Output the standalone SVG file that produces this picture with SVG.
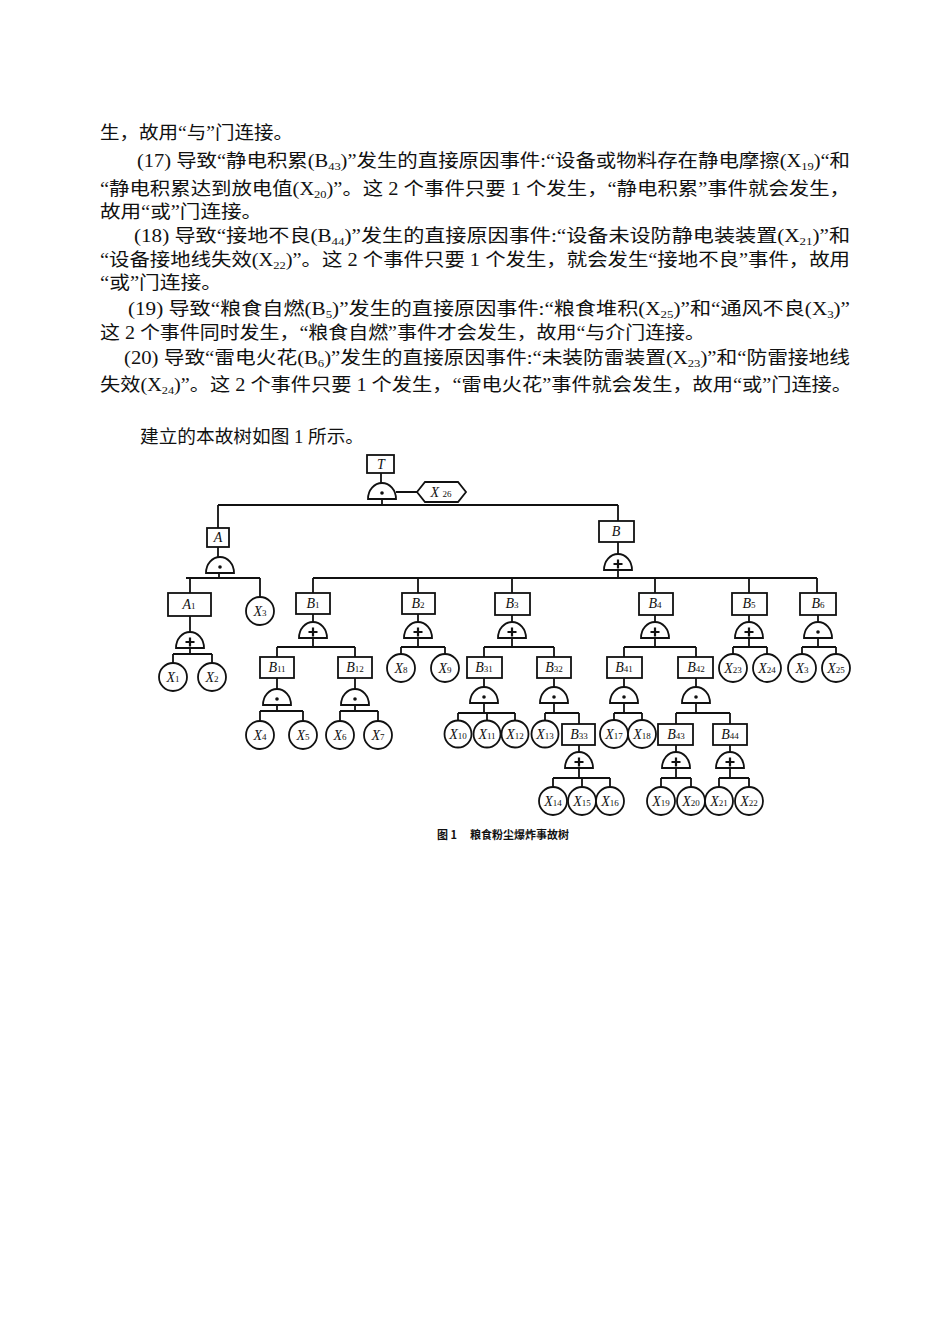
<svg xmlns="http://www.w3.org/2000/svg" width="950" height="1344" viewBox="0 0 950 1344">
<style>
.p{font-family:"Liberation Serif","Noto Sans CJK SC",serif;font-size:18px;fill:#111}
.s{font-size:11px}
.n{fill:#fff;stroke:#111;stroke-width:1.8}
.l{fill:none;stroke:#111;stroke-width:1.8}
.t{font-family:"Liberation Serif",serif;font-style:italic;font-size:14px;fill:#111;text-anchor:middle}
.t tspan{font-style:normal;font-size:9px}
.cap{font-family:"Noto Sans CJK SC",sans-serif;font-weight:bold;font-size:11px;fill:#111}
</style>
<defs>
<g id="and"><path d="M-14,0 A14,16 0 0 1 14,0 Z" fill="#fff" stroke="#111" stroke-width="1.8"/><circle cx="0" cy="-6" r="1.8" fill="#111"/></g>
<g id="or"><path d="M-14,0 A14,16 0 0 1 14,0 Z" fill="#fff" stroke="#111" stroke-width="1.8"/><path d="M-4.5,-6 H4.5 M0,-10.5 V-1.5" stroke="#111" stroke-width="2.2"/></g>
</defs>
<rect width="950" height="1344" fill="#fff"/>
<g id="text">
<text class="p" x="100" y="139" textLength="193" lengthAdjust="spacingAndGlyphs">生，故用“与”门连接。</text>
<text class="p" x="137" y="167" textLength="713" lengthAdjust="spacingAndGlyphs">(17) 导致“静电积累(B<tspan class="s" dy="3">43</tspan><tspan dy="-3">)”发生的直接原因事件:“设备或物料存在静电摩擦(X</tspan><tspan class="s" dy="3">19</tspan><tspan dy="-3">)“和</tspan></text>
<text class="p" x="100" y="195" textLength="750" lengthAdjust="spacingAndGlyphs">“静电积累达到放电值(X<tspan class="s" dy="3">20</tspan><tspan dy="-3">)”。这 2 个事件只要 1 个发生，“静电积累”事件就会发生，</tspan></text>
<text class="p" x="100" y="218" textLength="162" lengthAdjust="spacingAndGlyphs">故用“或”门连接。</text>
<text class="p" x="134" y="242" textLength="716" lengthAdjust="spacingAndGlyphs">(18) 导致“接地不良(B<tspan class="s" dy="3">44</tspan><tspan dy="-3">)”发生的直接原因事件:“设备未设防静电装装置(X</tspan><tspan class="s" dy="3">21</tspan><tspan dy="-3">)”和</tspan></text>
<text class="p" x="100" y="266" textLength="750" lengthAdjust="spacingAndGlyphs">“设备接地线失效(X<tspan class="s" dy="3">22</tspan><tspan dy="-3">)”。这 2 个事件只要 1 个发生，就会发生“接地不良”事件，故用</tspan></text>
<text class="p" x="100" y="289" textLength="122" lengthAdjust="spacingAndGlyphs">“或”门连接。</text>
<text class="p" x="128" y="315" textLength="722" lengthAdjust="spacingAndGlyphs">(19) 导致“粮食自燃(B<tspan class="s" dy="3">5</tspan><tspan dy="-3">)”发生的直接原因事件:“粮食堆积(X</tspan><tspan class="s" dy="3">25</tspan><tspan dy="-3">)”和“通风不良(X</tspan><tspan class="s" dy="3">3</tspan><tspan dy="-3">)”</tspan></text>
<text class="p" x="100" y="339" textLength="605" lengthAdjust="spacingAndGlyphs">这 2 个事件同时发生，“粮食自燃”事件才会发生，故用“与介门连接。</text>
<text class="p" x="124" y="364" textLength="726" lengthAdjust="spacingAndGlyphs">(20) 导致“雷电火花(B<tspan class="s" dy="3">6</tspan><tspan dy="-3">)”发生的直接原因事件:“未装防雷装置(X</tspan><tspan class="s" dy="3">23</tspan><tspan dy="-3">)”和“防雷接地线</tspan></text>
<text class="p" x="100" y="391" textLength="752" lengthAdjust="spacingAndGlyphs">失效(X<tspan class="s" dy="3">24</tspan><tspan dy="-3">)”。这 2 个事件只要 1 个发生，“雷电火花”事件就会发生，故用“或”门连接。</tspan></text>
<text class="p" x="140" y="443" textLength="224" lengthAdjust="spacingAndGlyphs">建立的本故树如图 1 所示。</text>
</g>
<g id="connectors" class="l">
<path d="M381,473V484 M396,492H417 M382,499V505 M218,505H618 M218,505V528 M618,505V521 M618,542V554 M618,570V578"/>
<path d="M218,547V558 M219,573V578 M186,578H260 M190,578V593 M260,578V597 M190,616V632 M190,648V654 M173,654H212 M173,654V663 M212,654V663"/>
<path d="M313,578H817 M313,578V593 M418,578V593 M512,578V593 M655,578V593 M749,578V593 M817,578V593"/>
<path d="M313,614V622 M313,638V647 M277,647H355 M277,647V657 M355,647V657 M277,678V689 M277,705V711 M260,711H303 M260,711V721 M303,711V721 M355,678V689 M355,705V711 M340,711H378 M340,711V721 M378,711V721"/>
<path d="M418,614V622 M418,638V647 M401,647H445 M401,647V654 M445,647V654"/>
<path d="M512,615V622 M512,638V647 M484,647H554 M484,647V657 M554,647V657 M484,678V687 M484,703V713 M458,713H515 M458,713V721 M487,713V721 M515,713V721 M554,678V687 M554,703V713 M545,713H579 M545,713V720 M579,713V724 M579,745V752 M579,768V778 M553,778H610 M553,778V787 M582,778V787 M610,778V787"/>
<path d="M655,615V622 M655,638V647 M624,647H696 M624,647V657 M696,647V657 M624,678V687 M624,703V713 M614,713H642 M614,713V720 M642,713V720 M696,678V687 M696,703V713 M676,713H730 M676,713V724 M730,713V724 M676,745V752 M676,768V778 M661,778H691 M661,778V787 M691,778V787 M730,745V752 M730,768V778 M719,778H749 M719,778V787 M749,778V787"/>
<path d="M749,615V622 M749,638V647 M733,647H767 M733,647V654 M767,647V654 M818,615V622 M818,638V647 M802,647H836 M802,647V654 M836,647V654"/>
</g>
<g id="gates">
<use href="#and" x="382" y="499"/><use href="#and" x="220" y="573"/><use href="#or" x="618" y="570"/>
<use href="#or" x="190" y="648"/><use href="#or" x="313" y="638"/><use href="#and" x="277" y="705"/><use href="#and" x="355" y="705"/>
<use href="#or" x="418" y="638"/><use href="#or" x="512" y="638"/><use href="#and" x="484" y="703"/><use href="#and" x="554" y="703"/><use href="#or" x="579" y="768"/>
<use href="#or" x="655" y="638"/><use href="#and" x="624" y="703"/><use href="#and" x="696" y="703"/><use href="#or" x="676" y="768"/><use href="#or" x="730" y="768"/>
<use href="#or" x="749" y="638"/><use href="#and" x="818" y="638"/>
</g>
<g id="T"><rect class="n" x="367" y="455" width="27" height="18"/><text class="t" x="381" y="469">T</text></g>
<g id="X26"><path class="n" d="M417,492 L425,482 H458 L466,492 L458,502 H425 Z"/><text class="t" x="441" y="497">X <tspan>26</tspan></text></g>
<g id="A"><rect class="n" x="207" y="528" width="22" height="19"/><text class="t" x="218" y="542">A</text></g>
<g id="B"><rect class="n" x="599" y="521" width="35" height="21"/><text class="t" x="616" y="536">B</text></g>
<g id="A1"><rect class="n" x="168" y="593" width="43" height="23"/><text class="t" x="189" y="609">A<tspan>1</tspan></text></g>
<g id="X3a"><circle class="n" cx="260" cy="611" r="14"/><text class="t" x="260" y="616">X<tspan>3</tspan></text></g>
<g id="X1"><circle class="n" cx="173" cy="677" r="14"/><text class="t" x="173" y="682">X<tspan>1</tspan></text></g>
<g id="X2"><circle class="n" cx="212" cy="677" r="14"/><text class="t" x="212" y="682">X<tspan>2</tspan></text></g>
<g id="B1"><rect class="n" x="296" y="593" width="34" height="21"/><text class="t" x="313" y="608">B<tspan>1</tspan></text></g>
<g id="B11"><rect class="n" x="260" y="657" width="34" height="21"/><text class="t" x="277" y="672">B<tspan>11</tspan></text></g>
<g id="B12"><rect class="n" x="338" y="657" width="34" height="21"/><text class="t" x="355" y="672">B<tspan>12</tspan></text></g>
<g id="X4"><circle class="n" cx="260" cy="735" r="14"/><text class="t" x="260" y="740">X<tspan>4</tspan></text></g>
<g id="X5"><circle class="n" cx="303" cy="735" r="14"/><text class="t" x="303" y="740">X<tspan>5</tspan></text></g>
<g id="X6"><circle class="n" cx="340" cy="735" r="14"/><text class="t" x="340" y="740">X<tspan>6</tspan></text></g>
<g id="X7"><circle class="n" cx="378" cy="735" r="14"/><text class="t" x="378" y="740">X<tspan>7</tspan></text></g>
<g id="B2"><rect class="n" x="402" y="593" width="33" height="21"/><text class="t" x="418" y="608">B<tspan>2</tspan></text></g>
<g id="X8"><circle class="n" cx="401" cy="668" r="14"/><text class="t" x="401" y="673">X<tspan>8</tspan></text></g>
<g id="X9"><circle class="n" cx="445" cy="668" r="14"/><text class="t" x="445" y="673">X<tspan>9</tspan></text></g>
<g id="B3"><rect class="n" x="495" y="593" width="35" height="22"/><text class="t" x="512" y="608">B<tspan>3</tspan></text></g>
<g id="B31"><rect class="n" x="467" y="657" width="35" height="21"/><text class="t" x="484" y="672">B<tspan>31</tspan></text></g>
<g id="B32"><rect class="n" x="537" y="657" width="34" height="21"/><text class="t" x="554" y="672">B<tspan>32</tspan></text></g>
<g id="X10"><circle class="n" cx="458" cy="734" r="13.5"/><text class="t" x="458" y="739">X<tspan>10</tspan></text></g>
<g id="X11"><circle class="n" cx="487" cy="734" r="13.5"/><text class="t" x="487" y="739">X<tspan>11</tspan></text></g>
<g id="X12"><circle class="n" cx="515" cy="734" r="13.5"/><text class="t" x="515" y="739">X<tspan>12</tspan></text></g>
<g id="X13"><circle class="n" cx="545" cy="734" r="13.5"/><text class="t" x="545" y="739">X<tspan>13</tspan></text></g>
<g id="B33"><rect class="n" x="562" y="724" width="33" height="21"/><text class="t" x="579" y="739">B<tspan>33</tspan></text></g>
<g id="X14"><circle class="n" cx="553" cy="801" r="14"/><text class="t" x="553" y="806">X<tspan>14</tspan></text></g>
<g id="X15"><circle class="n" cx="582" cy="801" r="14"/><text class="t" x="582" y="806">X<tspan>15</tspan></text></g>
<g id="X16"><circle class="n" cx="610" cy="801" r="14"/><text class="t" x="610" y="806">X<tspan>16</tspan></text></g>
<g id="B4"><rect class="n" x="639" y="593" width="34" height="22"/><text class="t" x="655" y="608">B<tspan>4</tspan></text></g>
<g id="B41"><rect class="n" x="607" y="657" width="35" height="21"/><text class="t" x="624" y="672">B<tspan>41</tspan></text></g>
<g id="B42"><rect class="n" x="678" y="657" width="35" height="21"/><text class="t" x="696" y="672">B<tspan>42</tspan></text></g>
<g id="X17"><circle class="n" cx="614" cy="734" r="14"/><text class="t" x="614" y="739">X<tspan>17</tspan></text></g>
<g id="X18"><circle class="n" cx="642" cy="734" r="14"/><text class="t" x="642" y="739">X<tspan>18</tspan></text></g>
<g id="B43"><rect class="n" x="658" y="724" width="35" height="21"/><text class="t" x="676" y="739">B<tspan>43</tspan></text></g>
<g id="B44"><rect class="n" x="713" y="724" width="34" height="21"/><text class="t" x="730" y="739">B<tspan>44</tspan></text></g>
<g id="X19"><circle class="n" cx="661" cy="801" r="14"/><text class="t" x="661" y="806">X<tspan>19</tspan></text></g>
<g id="X20"><circle class="n" cx="691" cy="801" r="14"/><text class="t" x="691" y="806">X<tspan>20</tspan></text></g>
<g id="X21"><circle class="n" cx="719" cy="801" r="14"/><text class="t" x="719" y="806">X<tspan>21</tspan></text></g>
<g id="X22"><circle class="n" cx="749" cy="801" r="14"/><text class="t" x="749" y="806">X<tspan>22</tspan></text></g>
<g id="B5"><rect class="n" x="732" y="593" width="35" height="22"/><text class="t" x="749" y="608">B<tspan>5</tspan></text></g>
<g id="X23"><circle class="n" cx="733" cy="668" r="14"/><text class="t" x="733" y="673">X<tspan>23</tspan></text></g>
<g id="X24"><circle class="n" cx="767" cy="668" r="14"/><text class="t" x="767" y="673">X<tspan>24</tspan></text></g>
<g id="B6"><rect class="n" x="800" y="593" width="36" height="22"/><text class="t" x="818" y="608">B<tspan>6</tspan></text></g>
<g id="X3b"><circle class="n" cx="802" cy="668" r="14"/><text class="t" x="802" y="673">X<tspan>3</tspan></text></g>
<g id="X25"><circle class="n" cx="836" cy="668" r="14"/><text class="t" x="836" y="673">X<tspan>25</tspan></text></g>
<text class="cap" x="437" y="839">图 1</text><text class="cap" x="470" y="839">粮食粉尘爆炸事故树</text>
</svg>
